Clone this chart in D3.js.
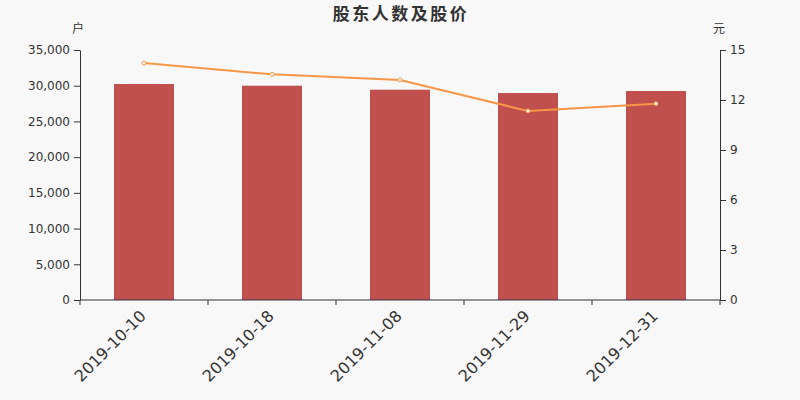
<!DOCTYPE html>
<html>
<head>
<meta charset="utf-8">
<script src="https://cdn.jsdelivr.net/npm/d3@7"></script>
<style>
  body { margin: 0; background: #f8f8f8; }
  svg { display: block; font-family: "DejaVu Sans", "Noto Sans CJK SC", sans-serif; }
  .axis { font-family: "DejaVu Sans", sans-serif; }
  .axis path, .axis line { stroke: #333; }
  .axis text { fill: #333; font-size: 12px; }
</style>
</head>
<body>
<svg id="chart" width="800" height="400"></svg>
<script>
// data
var dates = ["2019-10-10", "2019-10-18", "2019-11-08", "2019-11-29", "2019-12-31"];
var holders = [30240, 30000, 29440, 28980, 29260];
var prices = [14.22, 13.54, 13.20, 11.34, 11.78];
var holderTicks = [0, 5000, 10000, 15000, 20000, 25000, 30000, 35000];
var priceTicks = [0, 3, 6, 9, 12, 15];

var margin = {top: 50, right: 80, bottom: 100, left: 80},
    width = 800 - margin.left - margin.right,
    height = 400 - margin.top - margin.bottom;

var svg = d3.select("#chart");

svg.append("rect")
  .attr("width", 800).attr("height", 400)
  .attr("fill", "#f8f8f8");

var x = d3.scaleBand().domain(dates).range([0, width]);
var y = d3.scaleLinear().domain([0, 35000]).range([height, 0]);
var y2 = d3.scaleLinear().domain([0, 15]).range([height, 0]);

var g = svg.append("g")
  .attr("transform", "translate(" + margin.left + "," + margin.top + ")");

// title
svg.append("text")
  .attr("x", 401).attr("y", 20)
  .attr("text-anchor", "middle")
  .style("font-family", "'Noto Sans CJK SC', sans-serif")
  .style("font-size", "17px")
  .style("font-weight", "bold")
  .style("letter-spacing", "2.5px")
  .attr("fill", "#333")
  .text("股东人数及股价");

// unit labels
svg.append("text")
  .attr("x", margin.left - 2).attr("y", 33)
  .attr("text-anchor", "middle")
  .style("font-family", "'Noto Sans CJK SC', sans-serif")
  .style("font-size", "12px")
  .attr("fill", "#333")
  .text("户");
svg.append("text")
  .attr("x", margin.left + width - 1).attr("y", 33)
  .attr("text-anchor", "middle")
  .style("font-family", "'Noto Sans CJK SC', sans-serif")
  .style("font-size", "12px")
  .attr("fill", "#333")
  .text("元");

// bars
var barWidth = 60;
g.selectAll(".bar").data(dates)
  .enter().append("rect")
  .attr("class", "bar")
  .attr("x", function(d) { return x(d) + (x.bandwidth() - barWidth) / 2; })
  .attr("y", function(d, i) { return y(holders[i]); })
  .attr("width", barWidth)
  .attr("height", function(d, i) { return height - y(holders[i]); })
  .attr("fill", "#c0504d");

// price line
var line = d3.line()
  .x(function(d, i) { return x(dates[i]) + x.bandwidth() / 2; })
  .y(function(d) { return y2(d); });

g.append("path")
  .datum(prices)
  .attr("d", line)
  .attr("fill", "none")
  .attr("stroke", "#f79646")
  .attr("stroke-width", 2);

g.selectAll(".dot").data(prices)
  .enter().append("circle")
  .attr("class", "dot")
  .attr("cx", function(d, i) { return x(dates[i]) + x.bandwidth() / 2; })
  .attr("cy", function(d) { return y2(d); })
  .attr("r", 2)
  .attr("fill", "#fff")
  .attr("stroke", "#f79646")
  .attr("stroke-width", 1);

// axes
g.append("g")
  .attr("class", "axis axis--y")
  .call(d3.axisLeft(y).tickValues(holderTicks).tickSizeOuter(0).tickPadding(4).tickFormat(d3.format(",")));

g.append("g")
  .attr("class", "axis axis--y2")
  .attr("transform", "translate(" + width + ",0)")
  .call(d3.axisRight(y2).tickValues(priceTicks).tickSizeOuter(0).tickPadding(4));

// x axis ticks at band boundaries
var xAxis = g.append("g")
  .attr("class", "axis axis--x")
  .attr("transform", "translate(0," + height + ")");
xAxis.append("line")
  .attr("x1", 0).attr("x2", width)
  .attr("stroke", "#333");
xAxis.selectAll(".xtick").data(dates.concat(["end"]))
  .enter().append("line")
  .attr("x1", function(d, i) { return i * x.step(); })
  .attr("x2", function(d, i) { return i * x.step(); })
  .attr("y1", 0).attr("y2", 5)
  .attr("stroke", "#333");
xAxis.selectAll(".xlabel").data(dates)
  .enter().append("text")
  .attr("text-anchor", "end")
  .style("font-size", "16px")
  .attr("fill", "#333")
  .attr("transform", function(d) {
    return "translate(" + (x(d) + x.bandwidth() / 2 + 3) + ",17)rotate(-45)";
  })
  .text(function(d) { return d; });
</script>
</body>
</html>
